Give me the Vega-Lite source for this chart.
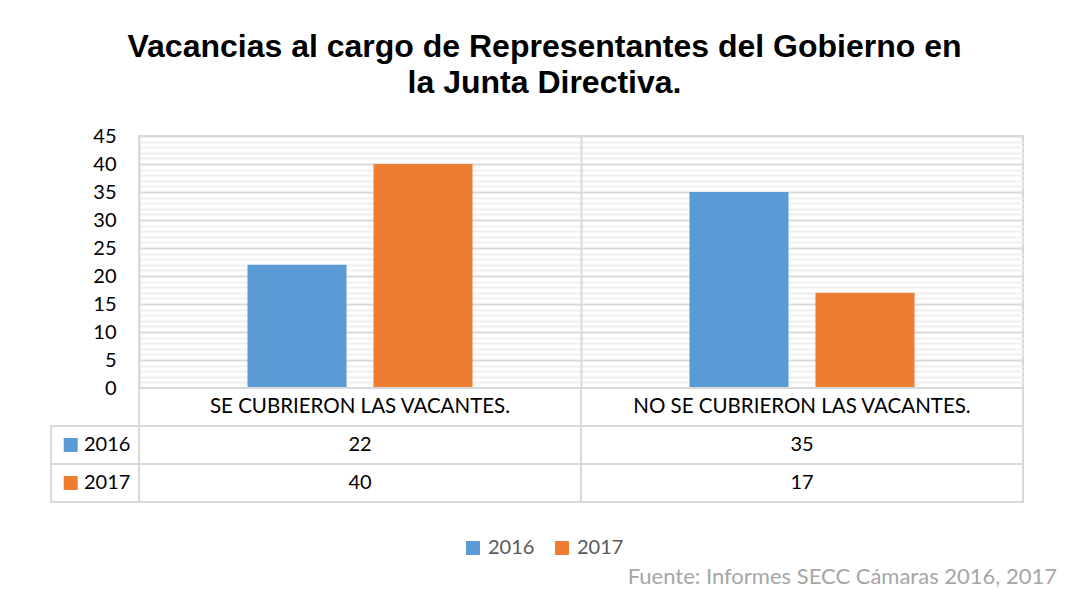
{
  "$schema": "https://vega.github.io/schema/vega-lite/v6.json",
  "background": "white",
  "padding": {"left": 50, "top": 31, "right": 10, "bottom": 10},
  "title": {
    "text": ["Vacancias al cargo de Representantes del Gobierno en", "la Junta Directiva."],
    "font": "Liberation Sans",
    "fontSize": 32,
    "fontWeight": "bold",
    "color": "black",
    "anchor": "middle",
    "dx": -9,
    "offset": 25,
    "lineHeight": 36
  },
  "datasets": {
    "vac": [
      {"categoria": "SE CUBRIERON LAS VACANTES.", "year": "2016", "valor": 22},
      {"categoria": "SE CUBRIERON LAS VACANTES.", "year": "2017", "valor": 40},
      {"categoria": "NO SE CUBRIERON LAS VACANTES.", "year": "2016", "valor": 35},
      {"categoria": "NO SE CUBRIERON LAS VACANTES.", "year": "2017", "valor": 17}
    ],
    "categorias": [
      {"categoria": "SE CUBRIERON LAS VACANTES."},
      {"categoria": "NO SE CUBRIERON LAS VACANTES."}
    ],
    "years": [
      {"year": "2016"},
      {"year": "2017"}
    ]
  },
  "columns": 2,
  "spacing": 0,
  "bounds": "flush",
  "concat": [
    {
      "width": 88,
      "height": 252,
      "view": {"stroke": null},
      "data": {"name": "years"},
      "mark": {"type": "point", "opacity": 0},
      "encoding": {}
    },
    {
      "width": 884,
      "height": 252,
      "data": {"name": "vac"},
      "mark": {"type": "bar"},
      "encoding": {
        "x": {
          "field": "categoria",
          "type": "nominal",
          "scale": {"domain": ["SE CUBRIERON LAS VACANTES.", "NO SE CUBRIERON LAS VACANTES."], "paddingInner": 0, "paddingOuter": 0},
          "axis": {"labels": false, "ticks": false, "domain": false, "title": null, "grid": true, "bandPosition": 0, "gridColor": "#d9d9d9", "gridWidth": 2, "zindex": 1}
        },
        "xOffset": {
          "field": "year",
          "type": "nominal",
          "scale": {"paddingInner": 0.214, "paddingOuter": 0.861}
        },
        "y": {
          "field": "valor",
          "type": "quantitative",
          "scale": {"domain": [0, 45], "nice": false},
          "axis": {
            "values": [0,1,2,3,4,5,6,7,8,9,10,11,12,13,14,15,16,17,18,19,20,21,22,23,24,25,26,27,28,29,30,31,32,33,34,35,36,37,38,39,40,41,42,43,44,45],
            "labelExpr": "datum.value % 5 === 0 ? datum.label : ''",
            "labelOverlap": false,
            "labelFont": "Lato",
            "labelFontSize": 20,
            "labelColor": "black",
            "labelPadding": 23,
            "ticks": false,
            "domain": false,
            "title": null,
            "grid": true,
            "gridColor": {"condition": {"test": "datum.value % 5 === 0", "value": "#d9d9d9"}, "value": "#efefef"},
            "gridWidth": 2
          }
        },
        "color": {
          "field": "year",
          "type": "nominal",
          "scale": {"domain": ["2016", "2017"], "range": ["#5b9bd5", "#ed7d31"]},
          "legend": {
            "orient": "none",
            "legendX": 412,
            "legendY": 402,
            "direction": "horizontal",
            "title": null,
            "symbolType": "square",
            "symbolSize": 196,
            "symbolStrokeWidth": 0,
            "labelFont": "Lato",
            "labelFontSize": 20,
            "labelColor": "#595959",
            "labelOffset": 5,
            "columnPadding": 17
          }
        }
      }
    },
    {
      "width": 88,
      "height": 114,
      "view": {"stroke": null},
      "data": {"name": "years"},
      "encoding": {
        "y": {
          "field": "year",
          "type": "nominal",
          "scale": {"domain": ["cat", "2016", "2017"], "paddingInner": 0, "paddingOuter": 0},
          "axis": null
        }
      },
      "layer": [
        {
          "mark": {"type": "rect", "fill": "white", "stroke": "#d9d9d9", "strokeWidth": 2}
        },
        {
          "mark": {"type": "point", "shape": "square", "filled": true, "size": 196, "opacity": 1},
          "encoding": {
            "x": {"datum": "fila", "type": "nominal", "bandPosition": 0.224, "scale": {"type": "band", "domain": ["fila"], "paddingInner": 0, "paddingOuter": 0}, "axis": null},
            "color": {"field": "year", "type": "nominal"}
          }
        },
        {
          "mark": {"type": "text", "align": "left", "baseline": "middle", "font": "Lato", "fontSize": 20, "color": "black"},
          "encoding": {
            "x": {"datum": "fila", "type": "nominal", "bandPosition": 0.375, "scale": {"type": "band", "domain": ["fila"], "paddingInner": 0, "paddingOuter": 0}, "axis": null},
            "text": {"field": "year"}
          }
        }
      ]
    },
    {
      "width": 884,
      "height": 114,
      "view": {"stroke": null},
      "title": {
        "text": "Fuente: Informes SECC Cámaras 2016, 2017",
        "orient": "bottom",
        "anchor": "end",
        "offset": 64,
        "dx": 33,
        "font": "Lato",
        "fontSize": 22,
        "fontWeight": "normal",
        "color": "#a6a6a6"
      },
      "layer": [
        {
          "data": {"name": "categorias"},
          "mark": {"type": "rect", "fill": "white", "stroke": "#d9d9d9", "strokeWidth": 2},
          "encoding": {
            "x": {"field": "categoria", "type": "nominal", "scale": {"domain": ["SE CUBRIERON LAS VACANTES.", "NO SE CUBRIERON LAS VACANTES."], "paddingInner": 0, "paddingOuter": 0}, "axis": null},
            "y": {"datum": "cat", "type": "nominal", "scale": {"domain": ["cat", "2016", "2017"], "paddingInner": 0, "paddingOuter": 0}, "axis": null}
          }
        },
        {
          "data": {"name": "vac"},
          "mark": {"type": "rect", "fill": "white", "stroke": "#d9d9d9", "strokeWidth": 2},
          "encoding": {
            "x": {"field": "categoria", "type": "nominal"},
            "y": {"field": "year", "type": "nominal"}
          }
        },
        {
          "data": {"name": "categorias"},
          "mark": {"type": "text", "align": "center", "baseline": "middle", "font": "Lato", "fontSize": 20.5, "color": "black"},
          "encoding": {
            "x": {"field": "categoria", "type": "nominal"},
            "y": {"datum": "cat", "type": "nominal"},
            "text": {"field": "categoria"}
          }
        },
        {
          "data": {"name": "vac"},
          "mark": {"type": "text", "align": "center", "baseline": "middle", "font": "Lato", "fontSize": 20, "color": "black"},
          "encoding": {
            "x": {"field": "categoria", "type": "nominal"},
            "y": {"field": "year", "type": "nominal"},
            "text": {"field": "valor", "type": "quantitative"}
          }
        }
      ]
    }
  ],
  "config": {
    "view": {"stroke": "#d9d9d9", "strokeWidth": 2},
    "font": "Lato"
  }
}
